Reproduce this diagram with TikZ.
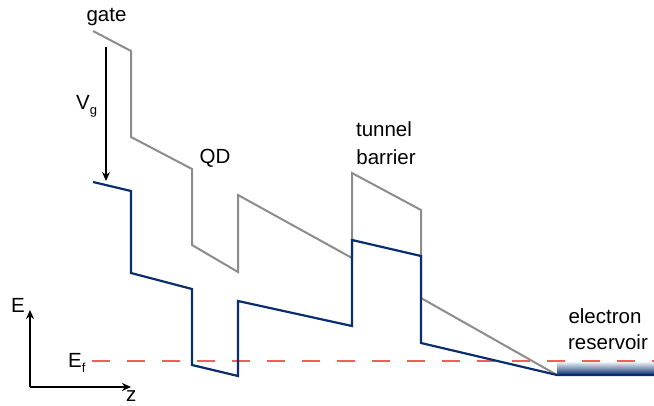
\documentclass[tikz,border=0pt]{standalone}
\usepackage{fontspec}
\setmainfont{Liberation Sans}
\usetikzlibrary{arrows.meta}
\definecolor{bandgray}{RGB}{140,140,140}
\definecolor{bandblue}{RGB}{10,45,110}
\definecolor{fermired}{RGB}{240,96,90}
\tikzset{
  lbl/.style={inner sep=0pt, font=\fontsize{20.5}{24}\selectfont},
  graybar/.style={draw=bandgray, line width=2pt, line join=miter},
  bluebar/.style={draw=bandblue, line width=2.2pt, line join=miter},
  axisarrow/.style={draw=black, line width=1.5pt, -{Stealth[length=9pt,width=8pt]}},
  fermi/.style={draw=fermired, line width=2pt, dash pattern=on 18pt off 17pt},
}
\newcommand{\lowsub}[1]{\raisebox{-5pt}{\fontsize{13}{13}\selectfont #1}}
\begin{document}
\begin{tikzpicture}[x=1pt,y=-1pt]
  \useasboundingbox (0,0) rectangle (654,406);

  % electron reservoir: shaded strip
  \shade[top color=white, bottom color=bandblue] (557,361) rectangle (654,375);

  % Fermi level
  \draw[fermi] (92,361) -- (654,361);

  % gate potential profile
  \draw[graybar] (93,31) -- (131,51) -- (131,137) -- (192,169) -- (192,245)
    -- (238,272) -- (238,195) -- (352,258) -- (352,173) -- (421,210)
    -- (421,298) -- (557,375);

  % band edge profile
  \draw[bluebar] (93,182) -- (131,191) -- (131,273) -- (192,289) -- (192,365)
    -- (238,376) -- (238,301) -- (352,326) -- (352,240) -- (421,256)
    -- (421,343) -- (557,375) -- (654,375);

  % gate voltage arrow
  \coordinate (vgtop) at (106,47);
  \coordinate (vgbot) at (106,181);
  \draw[line width=1.3pt, -{Stealth[length=9pt,width=8pt]}] (vgtop) -- (vgbot);

  % axes
  \coordinate (origin) at (30,387);
  \coordinate (etip) at (30,310);
  \coordinate (ztip) at (131,387);
  \draw[axisarrow] (origin) -- (etip);
  \draw[axisarrow] (origin) -- (ztip);

  % labels
  \node[lbl, anchor=base] (gate) at (106.5,22) {gate};
  \node[lbl, anchor=base west] (vg) at (76,110) {V\lowsub{g}};
  \node[lbl, anchor=base] (qd) at (215,164) {QD};
  \node[lbl, anchor=base] (tunnel) at (384,137) {tunnel};
  \node[lbl, anchor=base] (barrier) at (386,165) {barrier};
  \node[lbl, anchor=base] (electron) at (605,324) {electron};
  \node[lbl, anchor=base] (reservoir) at (608,350) {reservoir};
  \node[lbl, anchor=base west] (elabel) at (11,313) {E};
  \node[lbl, anchor=base west] (eflabel) at (68,368) {E\lowsub{f}};
  \node[lbl, anchor=base west] (zlabel) at (126,402) {z};
\end{tikzpicture}
\end{document}
